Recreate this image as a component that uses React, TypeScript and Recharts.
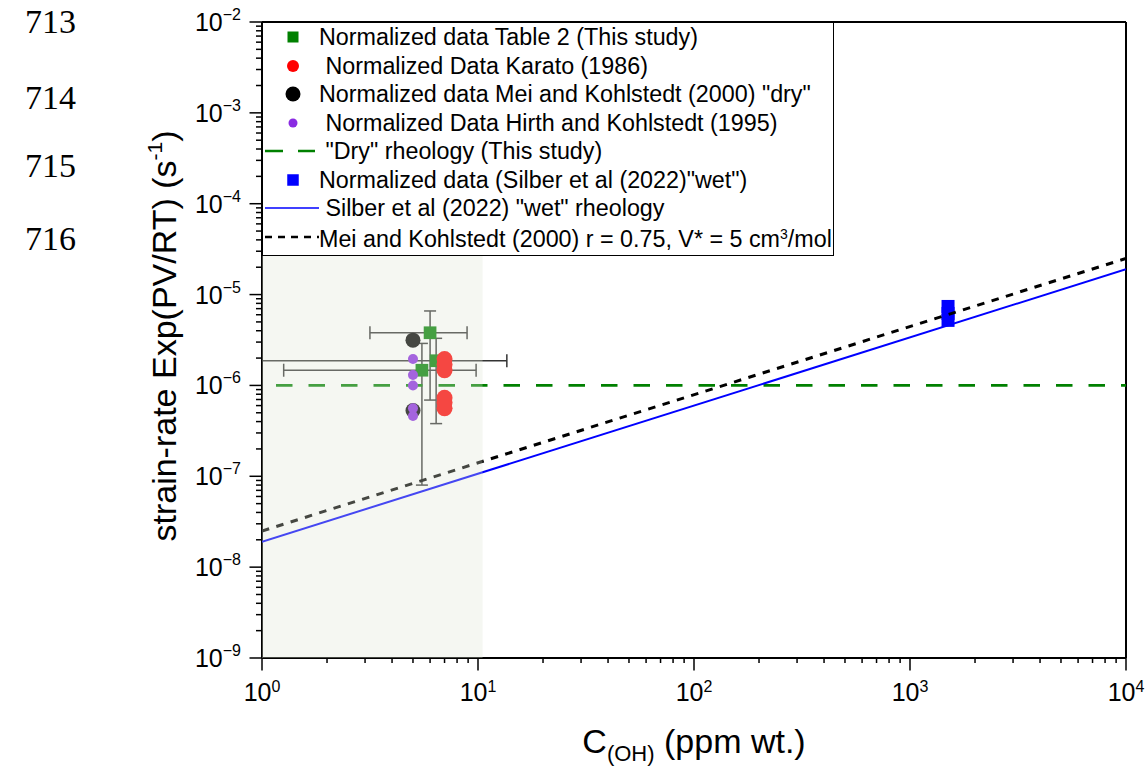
import React from "react";
import {
  ComposedChart,
  Scatter,
  XAxis,
  YAxis,
  ErrorBar,
  ReferenceArea,
  ReferenceLine,
  Legend,
} from "recharts";

const FONT = "Arial, 'Liberation Sans', Helvetica, sans-serif";

// axis layout: decade exponents and minor multipliers
const xExponents = [0, 1, 2, 3, 4];
const yExponents = [-9, -8, -7, -6, -5, -4, -3, -2];
const minorSteps = [2, 3, 4, 5, 6, 7, 8, 9];

// Normalized data Table 2 (This study) with error ranges
const table2C = [6.0, 6.4, 5.5];
const table2Rate = [3.8e-6, 1.87e-6, 1.47e-6];
const table2CLow = [3.16, 1.0, 1.26];
const table2CHigh = [8.9, 13.6, 9.8];
const table2RateLow = [6.9e-7, 3.8e-7, 8.0e-8];
const table2RateHigh = [6.6e-6, 3.3e-6, 2.9e-6];

// Normalized Data Karato (1986)
const karatoC = [7, 7, 7, 7, 7, 7];
const karatoRate = [1.95e-6, 1.7e-6, 1.47e-6, 7.3e-7, 6.5e-7, 5.6e-7];

// Normalized data Mei and Kohlstedt (2000) "dry"
const meiC = [5, 5];
const meiRate = [3.15e-6, 5.3e-7];

// Normalized Data Hirth and Kohlstedt (1995)
const hirthC = [5, 5, 5, 5, 5];
const hirthRate = [1.95e-6, 1.3e-6, 1.0e-6, 5.6e-7, 4.6e-7];

// Normalized data Silber et al (2022) "wet"
const silberC = [1500, 1500, 1500];
const silberRate = [7.4e-6, 6.2e-6, 5.2e-6];

// rheology lines (end points)
const dryLineC = [1, 10000];
const dryLineRate = [1e-6, 1e-6];
const silberLineC = [1, 10000];
const silberLineRate = [1.9e-8, 1.9e-5];
const meiLineC = [1, 10000];
const meiLineRate = [2.5e-8, 2.5e-5];

// shaded "dry" field
const dryFieldC = [1, 10.5];

const pts = (xs: number[], ys: number[]) => xs.map((x, i) => ({ x, y: ys[i] }));

const table2Data = table2C.map((x, i) => ({
  x,
  y: table2Rate[i],
  ex: [x - table2CLow[i], table2CHigh[i] - x],
  ey: [table2Rate[i] - table2RateLow[i], table2RateHigh[i] - table2Rate[i]],
}));

const decadeTicks = (exps: number[]) => exps.map((e) => Math.pow(10, e));
const minorTicks = (exps: number[]) =>
  exps.slice(0, -1).flatMap((e) => minorSteps.map((m) => m * Math.pow(10, e)));

const xTicks = [...decadeTicks(xExponents), ...minorTicks(xExponents)];
const yTicks = [...decadeTicks(yExponents), ...minorTicks(yExponents)];

const isDecade = (v: number) => Math.abs(Math.log10(v) - Math.round(Math.log10(v))) < 1e-6;
const expText = (v: number) => {
  const e = Math.round(Math.log10(v));
  return e < 0 ? "\u2212" + Math.abs(e) : String(e);
};

function YTick(props: any) {
  const { x, y, payload } = props;
  const major = isDecade(payload.value);
  return (
    <g>
      <line x1={x - (major ? 12.5 : 6)} x2={x} y1={y} y2={y} stroke="#000" strokeWidth={1.5} />
      {major && (
        <text x={x - 21} y={y + 9} textAnchor="end" fontFamily={FONT} fill="#000">
          <tspan fontSize={25}>10</tspan>
          <tspan fontSize={16} dy={-11}>
            {expText(payload.value)}
          </tspan>
        </text>
      )}
    </g>
  );
}

function XTick(props: any) {
  const { x, y, payload } = props;
  const major = isDecade(payload.value);
  return (
    <g>
      <line x1={x} x2={x} y1={y} y2={y + (major ? 12.5 : 5)} stroke="#000" strokeWidth={1.5} />
      {major && (
        <text x={x} y={y + 43} textAnchor="middle" fontFamily={FONT} fill="#000">
          <tspan fontSize={25}>10</tspan>
          <tspan fontSize={16} dy={-9}>
            {expText(payload.value)}
          </tspan>
        </text>
      )}
    </g>
  );
}

const square = (size: number, fill: string) => (p: any) =>
  <rect x={p.cx - size / 2} y={p.cy - size / 2} width={size} height={size} fill={fill} />;
const circle = (r: number, fill: string) => (p: any) => <circle cx={p.cx} cy={p.cy} r={r} fill={fill} />;
const noShape = () => <g />;

const legendRows = [
  { label: "Normalized data Table 2 (This study)", icon: "square", color: "#008000", size: 11 },
  { label: " Normalized Data Karato (1986)", icon: "circle", color: "#ff0000", size: 12 },
  { label: 'Normalized data Mei and Kohlstedt (2000) "dry"', icon: "circle", color: "#000000", size: 15 },
  { label: " Normalized Data Hirth and Kohlstedt (1995)", icon: "circle", color: "#8a2be2", size: 9 },
  { label: ' "Dry" rheology (This study)', icon: "dash", color: "#008000" },
  { label: 'Normalized data (Silber et al (2022)"wet")', icon: "square", color: "#0000ff", size: 11.5 },
  { label: ' Silber et al (2022) "wet" rheology', icon: "line", color: "#0000ff" },
  { label: "Mei and Kohlstedt (2000) r = 0.75, V* = 5 cm", sup: "3", tail: "/mol", icon: "dots", color: "#000000" },
];

function LegendIcon({ row }: { row: any }) {
  const cy = 14;
  return (
    <svg width={56} height={28} style={{ flex: "none", display: "block" }}>
      {row.icon === "square" && (
        <rect x={30 - row.size / 2} y={cy - row.size / 2} width={row.size} height={row.size} fill={row.color} />
      )}
      {row.icon === "circle" && <circle cx={30} cy={cy} r={row.size / 2} fill={row.color} />}
      {row.icon === "dash" && (
        <line x1={2} x2={52} y1={cy} y2={cy} stroke={row.color} strokeWidth={2.5} strokeDasharray="18 15" />
      )}
      {row.icon === "line" && <line x1={2} x2={56} y1={cy} y2={cy} stroke={row.color} strokeWidth={1.5} />}
      {row.icon === "dots" && (
        <line x1={2} x2={58} y1={cy} y2={cy} stroke={row.color} strokeWidth={2.5} strokeDasharray="7 6" />
      )}
    </svg>
  );
}

function LegendBox() {
  return (
    <div
      style={{
        width: 572,
        height: 234,
        boxSizing: "border-box",
        border: "1.5px solid #000",
        background: "#fff",
        paddingTop: 0,
        fontFamily: FONT,
        fontSize: 23.3,
        color: "#000",
      }}
    >
      {legendRows.map((row, i) => (
        <div key={i} style={{ display: "flex", alignItems: "center", height: 28.5, whiteSpace: "pre" }}>
          <LegendIcon row={row} />
          <span style={{ lineHeight: "28px" }}>
            {row.label}
            {row.sup && <sup style={{ fontSize: 14, verticalAlign: "8px" }}>{row.sup}</sup>}
            {row.tail}
          </span>
        </div>
      ))}
    </div>
  );
}

const lineNumbers = ["713", "714", "715", "716"];
const lineNumberTop = [2, 78, 146, 219];

export default function App() {
  return (
    <div style={{ position: "absolute", left: 0, top: 0, width: 1148, height: 768, background: "#fff" }}>
      {lineNumbers.map((n, i) => (
        <div
          key={n}
          style={{
            position: "absolute",
            left: 25,
            top: lineNumberTop[i],
            fontFamily: "'Liberation Serif', 'Times New Roman', serif",
            fontSize: 34,
            lineHeight: "40px",
            color: "#000",
          }}
        >
          {n}
        </div>
      ))}
      <ComposedChart width={1148} height={768} margin={{ top: 22, right: 22, bottom: 0, left: 0 }}>
        <XAxis
          dataKey="x"
          type="number"
          scale="log"
          domain={[1, 10000]}
          allowDataOverflow
          ticks={xTicks}
          interval={0}
          tickSize={0}
          tickMargin={0}
          tickLine={false}
          tick={<XTick />}
          axisLine={{ stroke: "#000", strokeWidth: 2 }}
          height={110}
          label={{
            content: (p: any) => {
              const vb = p.viewBox;
              return (
                <text x={vb.x + vb.width / 2} y={753} textAnchor="middle" fontFamily={FONT} fontSize={34} fill="#000">
                  C<tspan fontSize={22} dy={8}>(OH)</tspan>
                  <tspan dy={-8}> (ppm wt.)</tspan>
                </text>
              );
            },
          }}
        />
        <YAxis
          dataKey="y"
          type="number"
          scale="log"
          domain={[1e-9, 1e-2]}
          allowDataOverflow
          ticks={yTicks}
          interval={0}
          tickSize={0}
          tickMargin={0}
          tickLine={false}
          tick={<YTick />}
          axisLine={{ stroke: "#000", strokeWidth: 2 }}
          width={262}
          label={{
            content: (p: any) => {
              const vb = p.viewBox;
              const cx = 176;
              const cy = vb.y + vb.height / 2 - 4;
              return (
                <text
                  x={cx}
                  y={cy}
                  transform={`rotate(-90 ${cx} ${cy})`}
                  textAnchor="middle"
                  fontFamily={FONT}
                  fontSize={34}
                  fill="#000"
                >
                  strain-rate Exp(PV/RT) (s<tspan fontSize={21} dy={-14}>-1</tspan>
                  <tspan dy={14}>)</tspan>
                </text>
              );
            },
          }}
        />
        <Scatter
          data={pts(dryLineC, dryLineRate)}
          shape={noShape}
          line={{ stroke: "#008000", strokeWidth: 2.7, strokeDasharray: "16.5 16", strokeDashoffset: 18.5 }}
          isAnimationActive={false}
        />
        <Scatter
          data={pts(silberLineC, silberLineRate)}
          shape={noShape}
          line={{ stroke: "#0000ff", strokeWidth: 2 }}
          isAnimationActive={false}
        />
        <Scatter data={table2Data} shape={square(12.7, "#008000")} isAnimationActive={false}>
          <ErrorBar dataKey="ex" direction="x" width={6.5} stroke="#333" strokeWidth={1.5} />
          <ErrorBar dataKey="ey" direction="y" width={6} stroke="#333" strokeWidth={1.5} />
        </Scatter>
        <Scatter data={pts(karatoC, karatoRate)} shape={circle(8, "#ff0000")} isAnimationActive={false} />
        <Scatter data={pts(meiC, meiRate)} shape={circle(7.5, "#000000")} isAnimationActive={false} />
        <Scatter data={pts(hirthC, hirthRate)} shape={circle(5, "#8a2be2")} isAnimationActive={false} />
        <Scatter data={pts(silberC, silberRate)} shape={square(13, "#0000ff")} isAnimationActive={false} />
        <Scatter
          data={pts(meiLineC, meiLineRate)}
          shape={noShape}
          line={{ stroke: "#000000", strokeWidth: 3, strokeDasharray: "7.5 7.5" }}
          isAnimationActive={false}
        />
        <ReferenceArea
          x1={dryFieldC[0]}
          x2={dryFieldC[1]}
          y1={1e-9}
          y2={1e-2}
          fill="#dee5d4"
          fillOpacity={0.31}
          stroke="none"
          zIndex={1000}
        />
        <ReferenceLine y={1e-2} stroke="#000" strokeWidth={2} />
        <ReferenceLine x={10000} stroke="#000" strokeWidth={2} />
        <Legend
          layout="vertical"
          align="center"
          verticalAlign="middle"
          wrapperStyle={{ left: 262, top: 22, width: 572, height: 234 }}
          content={() => <LegendBox />}
        />
      </ComposedChart>
    </div>
  );
}
